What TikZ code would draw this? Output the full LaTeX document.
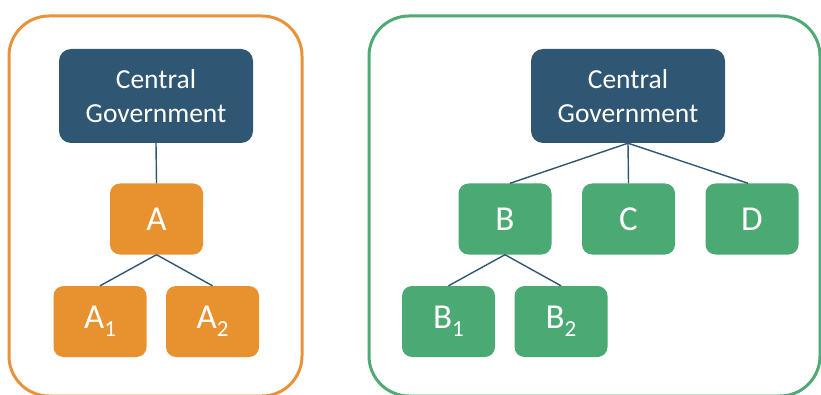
\documentclass[tikz,border=0pt]{standalone}
\usepackage{fontspec}
\setmainfont{Carlito}
\definecolor{navy}{HTML}{2F5672}
\definecolor{orng}{HTML}{E8912F}
\definecolor{grn}{HTML}{4BAA73}
\definecolor{oframe}{HTML}{E8923A}
\definecolor{gframe}{HTML}{50AA75}
\newcommand{\subdig}[1]{\raisebox{-8pt}{\fontsize{23}{23}\selectfont #1}}
\begin{document}
\begin{tikzpicture}[x=1pt,y=1pt,
 gov/.style={fill=navy, rounded corners=12pt, minimum width=194pt, minimum height=94pt, text=white, font=\fontsize{27.5}{34}\selectfont, align=center, inner sep=0pt},
 obox/.style={fill=orng, rounded corners=10pt, minimum width=93pt, minimum height=71pt, text=white, font=\fontsize{35}{40}\selectfont, inner sep=0pt},
 gbox/.style={obox, fill=grn},
 link/.style={draw=navy, line width=1.4pt},
 frame/.style={line width=3pt, rounded corners=40pt}]
\useasboundingbox (0,0) rectangle (821,394);
\clip (0,0) rectangle (821,394);
\fill[white] (0,0) rectangle (821,394);
% frames
\draw[frame, draw=oframe] (9,-2) rectangle (302,378);
\draw[frame, draw=gframe] (369,-2) rectangle (820,378);
% left tree
\node[gov] (cgL) at (156,298) {Central\\Government};
\node[obox] (A) at (156.5,175) {A};
\node[obox] (A1) at (100,72.5) {A\subdig{1}};
\node[obox] (A2) at (212.5,72.5) {A\subdig{2}};
\draw[link] (cgL.south) -- (A.north);
\draw[link] (A.south) -- (A1.north);
\draw[link] (A.south) -- (A2.north);
% right tree
\node[gov] (cgR) at (628,298) {Central\\Government};
\node[gbox] (B) at (505,175) {B};
\node[gbox] (C) at (628.5,175) {C};
\node[gbox] (D) at (752,175) {D};
\node[gbox] (B1) at (448.5,72.5) {B\subdig{1}};
\node[gbox] (B2) at (561,72.5) {B\subdig{2}};
\draw[link] (cgR.south) -- ([xshift=5pt]B.north);
\draw[link] (cgR.south) -- (C.north);
\draw[link] (cgR.south) -- ([xshift=-4pt]D.north);
\draw[link] (B.south) -- (B1.north);
\draw[link] (B.south) -- (B2.north);
\end{tikzpicture}
\end{document}
